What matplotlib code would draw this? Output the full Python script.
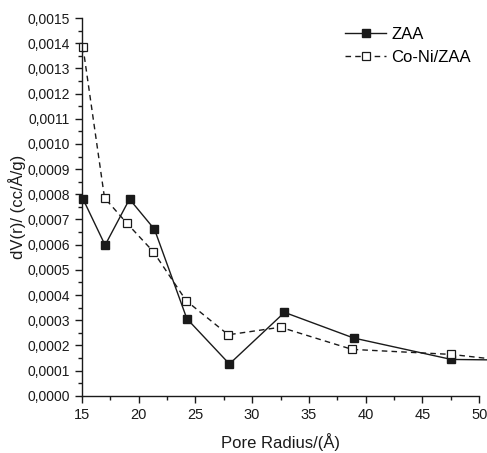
import matplotlib
matplotlib.use("Agg")
import matplotlib.pyplot as plt
from matplotlib.ticker import MultipleLocator, FuncFormatter

plt.rcParams['font.family'] = ['Liberation Sans', 'DejaVu Sans']

radius_zaa = [15.1, 17.05, 19.2, 21.4, 24.25, 28.0, 32.85, 38.95, 47.55, 51.5]
dv_zaa = [0.000782, 0.000598, 0.000781, 0.000661, 0.000306, 0.000126, 0.000331, 0.000229, 0.000144, 0.000142]

radius_coni = [15.1, 17.0, 18.95, 21.3, 24.2, 27.9, 32.5, 38.8, 47.55, 51.5]
dv_coni = [0.001386, 0.000786, 0.000686, 0.000572, 0.000377, 0.000242, 0.000272, 0.000184, 0.000164, 0.000144]

fig = plt.figure(figsize=(4.87, 4.53), dpi=100)
ax = fig.add_axes([0.168, 0.1265, 0.816, 0.8335])

ax.plot(radius_zaa, dv_zaa, '-', color='#1a1a1a', lw=1.0, marker='s', ms=5.4,
        mfc='#1a1a1a', mec='#1a1a1a', label='ZAA', clip_on=False)
ax.plot(radius_coni, dv_coni, '--', color='#1a1a1a', lw=1.0, marker='s', ms=5.4,
        mfc='white', mec='#1a1a1a', mew=0.9, label='Co-Ni/ZAA', clip_on=False,
        dashes=(4, 3))

ax.set_xlim(15, 50)
ax.set_ylim(0, 0.0015)
ax.xaxis.set_major_locator(MultipleLocator(5))
ax.xaxis.set_minor_locator(MultipleLocator(2.5))
ax.yaxis.set_major_locator(MultipleLocator(0.0001))
ax.yaxis.set_minor_locator(MultipleLocator(0.00005))
ax.yaxis.set_major_formatter(FuncFormatter(lambda v, p: f"{v:.4f}".replace('.', ',')))

for s in ['top', 'right']:
    ax.spines[s].set_visible(False)
for s in ['left', 'bottom']:
    ax.spines[s].set_color('#1a1a1a')
    ax.spines[s].set_linewidth(1.0)

ax.tick_params(which='major', direction='out', length=5, width=1, colors='#1a1a1a', labelsize=10)
ax.tick_params(axis='x', which='major', labelsize=10.5, pad=4)
ax.tick_params(which='minor', direction='out', length=3, width=1, colors='#1a1a1a')

ax.set_xlabel('Pore Radius/(Å)', fontsize=12, color='#1a1a1a', labelpad=8)
ax.set_ylabel('dV(r)/ (cc/Å/g)', fontsize=12, color='#1a1a1a', labelpad=1)

leg = ax.legend(loc='upper left', bbox_to_anchor=(0.645, 0.995), frameon=False,
                fontsize=12, handlelength=2.5, handletextpad=0.3, labelspacing=0.5,
                borderaxespad=0)

fig.savefig('out.png', dpi=100)
